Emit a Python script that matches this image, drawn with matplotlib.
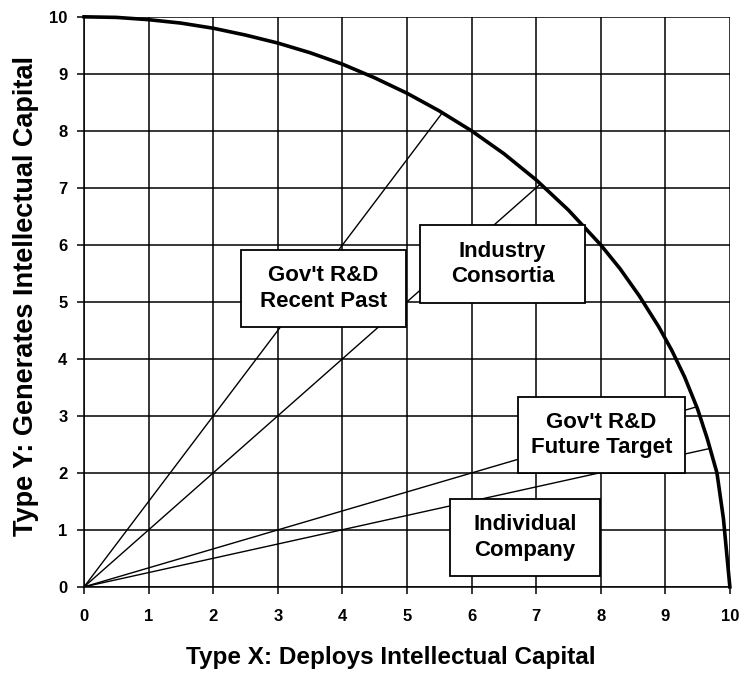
import matplotlib.pyplot as plt
from matplotlib.patches import Rectangle

plt.rcParams['font.family'] = ['Liberation Sans', 'DejaVu Sans']
plt.rcParams['font.weight'] = 'bold'

# Frontier curve
frontier_x = [0, 0.5, 1, 1.5, 2, 2.5, 3, 3.5, 4, 4.5, 5, 5.5, 6, 6.5, 7, 7.5, 8,
              8.3, 8.6, 8.9, 9.1, 9.3, 9.5, 9.65, 9.8, 9.9, 10]
frontier_y = [10, 9.99, 9.95, 9.89, 9.8, 9.68, 9.54, 9.37, 9.17, 8.93, 8.66,
              8.35, 8.0, 7.6, 7.14, 6.61, 6.0, 5.58, 5.1, 4.56, 4.15, 3.68,
              3.12, 2.6, 2.0, 1.2, 0]

# Rays from the origin to the frontier
ray_names = ["Gov't R&D Recent Past", "Industry Consortia",
             "Gov't R&D Future Target", "Individual Company"]
ray_end_x = [5.55, 7.07, 9.49, 9.70]
ray_end_y = [8.32, 7.07, 3.16, 2.43]

# Label boxes (x0, y0, x1, y1 in data units) and their text
box_labels = ["Gov't R&D\nRecent Past", "Industry\nConsortia",
              "Gov't R&D\nFuture Target", "Individual\nCompany"]
box_x0 = [2.43, 5.20, 6.72, 5.67]
box_x1 = [4.98, 7.76, 9.30, 7.99]
box_y0 = [4.56, 4.98, 2.00, 0.19]
box_y1 = [5.91, 6.35, 3.33, 1.54]

fig = plt.figure(figsize=(7.44, 6.73), dpi=100)
ax = fig.add_axes([0.113, 0.128, 0.868, 0.847])

ax.set_xlim(0, 10)
ax.set_ylim(0, 10)
ax.set_xticks(range(11))
ax.set_yticks(range(11))
ax.grid(True, color='black', linewidth=1.1)
ax.tick_params(labelsize=12, length=5, width=1.1, direction='out')
ax.tick_params(axis='x', pad=11)
ax.tick_params(axis='y', pad=7)
for s in ax.spines.values():
    s.set_linewidth(1.1)
ax.spines['top'].set_visible(False)
ax.spines['right'].set_visible(False)

for ex, ey in zip(ray_end_x, ray_end_y):
    ax.plot([0, ex], [0, ey], color='black', linewidth=1.0, zorder=3)

ax.plot(frontier_x, frontier_y, color='black', linewidth=2.6, zorder=4,
        solid_joinstyle='round', clip_on=False)

for x0, x1, y0, y1, lab in zip(box_x0, box_x1, box_y0, box_y1, box_labels):
    ax.add_patch(Rectangle((x0, y0), x1 - x0, y1 - y0, facecolor='white',
                           edgecolor='black', linewidth=1.3, zorder=5))
    ax.text((x0 + x1) / 2, (y0 + y1) / 2, lab, ha='center', va='center',
            fontsize=16, fontweight='bold', zorder=6, linespacing=1.3)

ax.set_xlabel('Type X: Deploys Intellectual Capital', fontsize=17.5,
              fontweight='bold', labelpad=16)
ax.set_ylabel('Type Y: Generates Intellectual Capital', fontsize=19.5,
              fontweight='bold', labelpad=7)
ax.xaxis.label.set_x(0.475)
ax.yaxis.label.set_y(0.51)

fig.savefig('out.png', dpi=100)
